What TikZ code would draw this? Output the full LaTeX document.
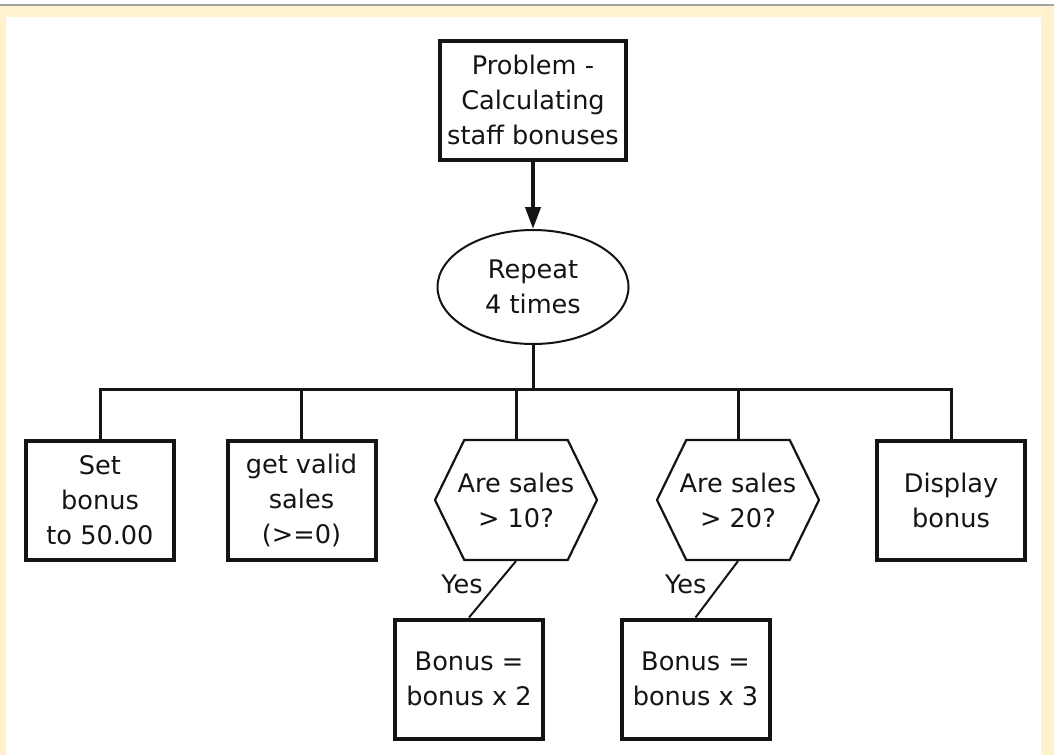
\documentclass[tikz,border=0pt]{standalone}
\usepackage{fontspec}
\setmainfont{DejaVu Sans}
\usepackage{tikz}
\usetikzlibrary{arrows.meta, shapes.geometric, shapes.symbols}
\definecolor{cream}{HTML}{FFF2CC}
\definecolor{rulegray}{HTML}{A3A3A3}
\definecolor{ink}{HTML}{141414}

\begin{document}
\begin{tikzpicture}[x=0.5pt,y=-0.5pt,font=\fontsize{12.8}{17.5}\selectfont,text=ink]
	\tikzstyle{box}=[draw=ink,line width=2pt,minimum width=74pt,minimum height=59.5pt,inner sep=0pt,align=center]
	\tikzstyle{loopnode}=[ellipse,draw=ink,line width=1pt,minimum width=95.5pt,minimum height=57pt,inner sep=0pt,align=center]
	\tikzstyle{decision}=[signal,signal to=west and east,signal pointer angle=128,draw=ink,line width=1.1pt,inner ysep=0pt,inner xsep=-3.5pt,minimum width=81pt,minimum height=60pt,align=center]
	\tikzstyle{link}=[draw=ink,line width=1.5pt]
	\tikzstyle{yesline}=[draw=ink,line width=1pt]

	\fill[white] (0,0) rectangle (1054,755);
	\fill[cream] (0,6) rectangle (1054,17);
	\fill[cream] (0,6) rectangle (6,755);
	\fill[cream] (1041,6) rectangle (1054,755);
	\fill[rulegray] (0,4) rectangle (1054,6);
	\useasboundingbox (0,0) rectangle (1054,755);

	\node[box,minimum width=93pt] (problem) at (533,100) {Problem -\\Calculating\\staff bonuses};
	\node[loopnode] (repeat) at (533,287) {Repeat\\4 times};
	\node[box] (setbonus) at (100,500) {Set\\bonus\\to 50.00};
	\node[box] (getsales) at (301.5,500) {get valid\\sales\\(>=0)};
	\node[decision] (test1) at (516,500) {Are sales\\> 10?};
	\node[decision] (test2) at (738,500) {Are sales\\> 20?};
	\node[box] (display) at (951,500) {Display\\bonus};
	\node[box] (double) at (469,679) {Bonus =\\bonus x 2};
	\node[box] (triple) at (695.5,679) {Bonus =\\bonus x 3};
	\coordinate (bus) at (533,389);

	\draw[link,line width=2pt,-{Triangle[length=11pt,width=7.5pt]}] (problem) -- (repeat);
	\draw[link] (repeat) -- (bus);
	\foreach \n in {setbonus,getsales,test1,test2,display}
		\draw[link] (bus) -| (\n.north);
	\draw[yesline] (test1.south) -- node[left,pos=0.42,xshift=-3pt] {Yes} (double.north);
	\draw[yesline] (test2.south) -- node[left,pos=0.42,xshift=-3pt] {Yes} (triple.north);
\end{tikzpicture}
\end{document}
